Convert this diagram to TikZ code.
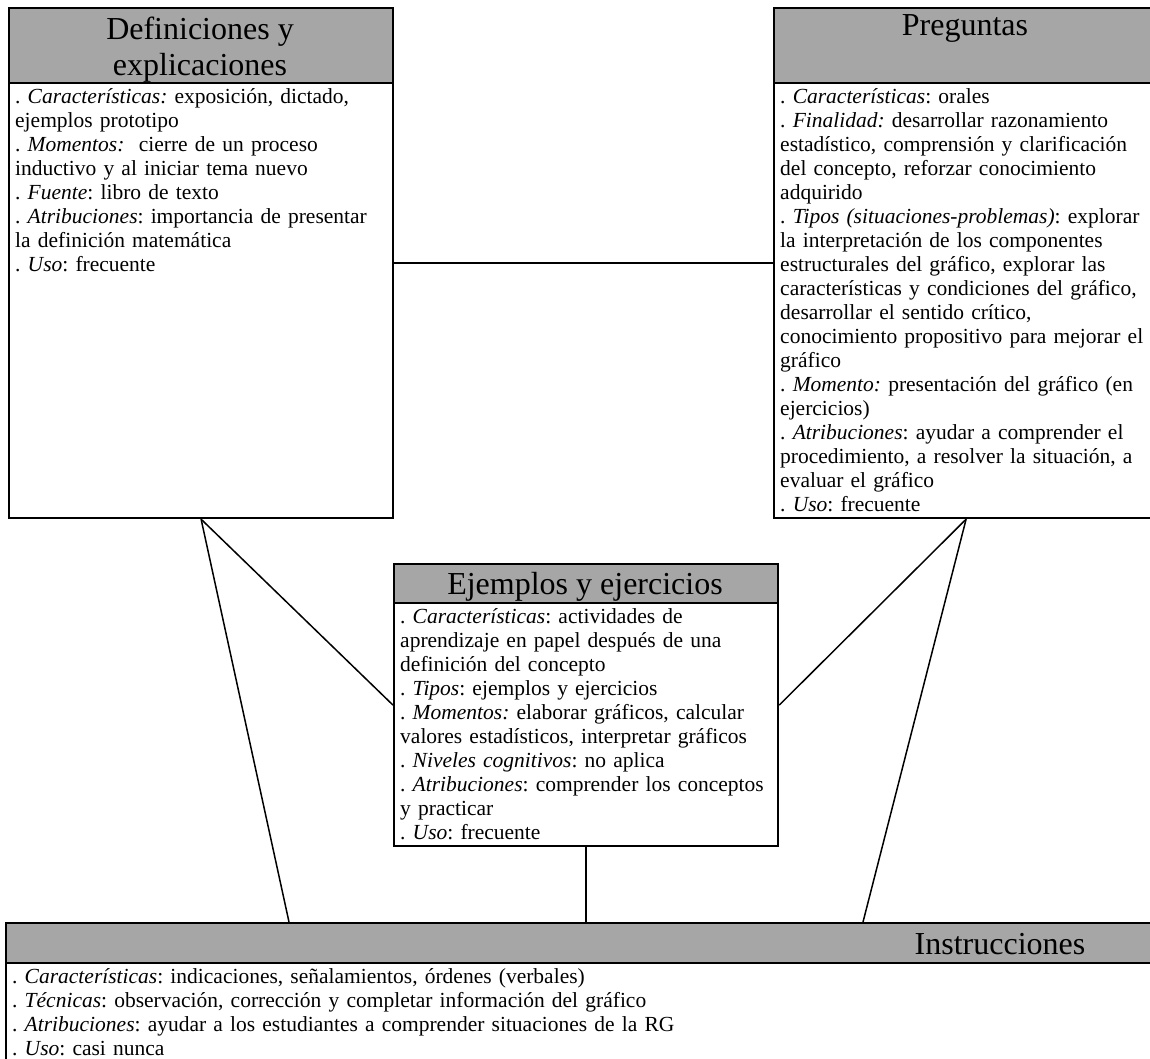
\documentclass[tikz,border=0pt]{standalone}
\usepackage{fontspec}
\setmainfont{Liberation Serif}
\definecolor{headgray}{RGB}{166,166,166}
\newcommand{\firststrut}{\rule{0pt}{20pt}}
\frenchspacing
\begin{document}
\begin{tikzpicture}[x=1pt,y=-1pt,
  frame/.style={draw=black, line width=2.2pt, fill=white, anchor=north west, inner sep=0pt},
  head/.style={draw=black, line width=2.2pt, fill=headgray, anchor=north west, inner sep=0pt},
  htext/.style={anchor=base, inner sep=0pt, font=\fontsize{32}{37}\selectfont},
  btext/.style={anchor=north west, inner sep=0pt, text width=372pt, align=left, font=\fontsize{21.5}{24}\selectfont\frenchspacing},
  link/.style={draw=black, line width=1.5pt}]
\useasboundingbox (0,0) rectangle (1150,1059);
\clip (0,0) rectangle (1150,1059);

% box frames
\node[frame, minimum width=384pt, minimum height=510pt] (def) at (8,7) {};
\node[frame, minimum width=384pt, minimum height=510pt] (preg) at (773,7) {};
\node[frame, minimum width=384pt, minimum height=282pt] (ejem) at (393,563) {};
\node[frame, minimum width=1990pt, minimum height=300pt] (inst) at (5,922) {};
\coordinate (iA) at (289,922);
\coordinate (iB) at (863,922);
\coordinate (iC) at (ejem.south |- inst.north);

% connectors
\draw[link] (def.east) -- (preg.west);
\draw[link] (def.south) -- (ejem.west);
\draw[link] (def.south) -- (iA);
\draw[link] (preg.south) -- (ejem.east);
\draw[link] (preg.south) -- (iB);
\draw[link] (ejem.south) -- (iC);

% headers
\node[head, minimum width=384pt, minimum height=75pt] (defh) at (8,7) {};
\node[head, minimum width=384pt, minimum height=75pt] (pregh) at (773,7) {};
\node[head, minimum width=384pt, minimum height=39pt] (ejemh) at (393,563) {};
\node[head, minimum width=1990pt, minimum height=40pt] (insth) at (5,922) {};

\node[htext] (defh1) at (200,40) {Definiciones y};
\node[htext] (defh2) at (200,76) {explicaciones};
\node[htext] (pregh1) at (965,36) {Preguntas};
\node[htext] (ejemh1) at (585,594) {Ejemplos y ejercicios};
\node[htext] (insth1) at (1000,954) {Instrucciones};

% bodies
\node[btext] (defb) at (15,83) {\firststrut. \textit{Características:} exposición, dictado,\\
ejemplos prototipo\\
. \textit{Momentos:}~ cierre de un proceso\\
inductivo y al iniciar tema nuevo\\
. \textit{Fuente}: libro de texto\\
. \textit{Atribuciones}: importancia de presentar\\
la definición matemática\\
. \textit{Uso}: frecuente};

\node[btext] (pregb) at (780,83) {\firststrut. \textit{Características}: orales\\
. \textit{Finalidad:} desarrollar razonamiento\\
estadístico, comprensión y clarificación\\
del concepto, reforzar conocimiento\\
adquirido\\
. \textit{Tipos (situaciones-problemas)}: explorar\\
la interpretación de los componentes\\
estructurales del gráfico, explorar las\\
características y condiciones del gráfico,\\
desarrollar el sentido crítico,\\
conocimiento propositivo para mejorar el\\
gráfico\\
. \textit{Momento:} presentación del gráfico (en\\
ejercicios)\\
. \textit{Atribuciones}: ayudar a comprender el\\
procedimiento, a resolver la situación, a\\
evaluar el gráfico\\
. \textit{Uso}: frecuente};

\node[btext] (ejemb) at (400,603) {\firststrut. \textit{Características}: actividades de\\
aprendizaje en papel después de una\\
definición del concepto\\
. \textit{Tipos}: ejemplos y ejercicios\\
. \textit{Momentos:} elaborar gráficos, calcular\\
valores estadísticos, interpretar gráficos\\
. \textit{Niveles cognitivos}: no aplica\\
. \textit{Atribuciones}: comprender los conceptos\\
y practicar\\
. \textit{Uso}: frecuente};

\node[btext, text width=1000pt] (instb) at (12,963) {\firststrut. \textit{Características}: indicaciones, señalamientos, órdenes (verbales)\\
. \textit{Técnicas}: observación, corrección y completar información del gráfico\\
. \textit{Atribuciones}: ayudar a los estudiantes a comprender situaciones de la RG\\
. \textit{Uso}: casi nunca};
\end{tikzpicture}
\end{document}
